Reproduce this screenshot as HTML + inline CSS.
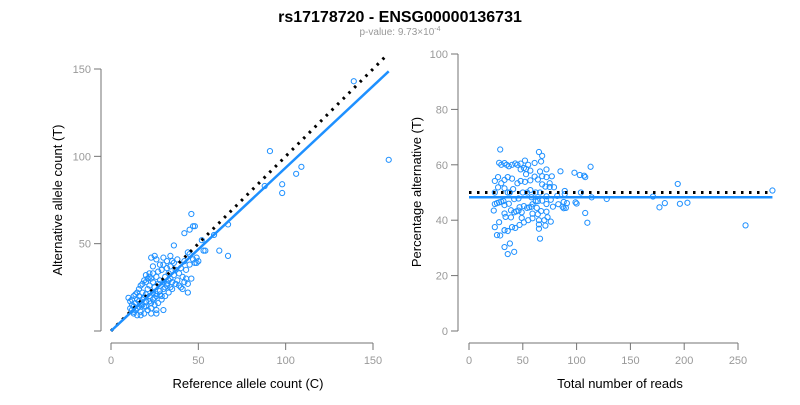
<!DOCTYPE html>
<html><head><meta charset="utf-8"><style>
body{margin:0;background:#fff;font-family:"Liberation Sans",Arial,sans-serif}
svg text{font-family:"Liberation Sans",Arial,sans-serif}
</style></head><body>
<svg id="c" width="800" height="400">
<text x="400" y="22" text-anchor="middle" font-size="16" font-weight="bold">rs17178720 - ENSG00000136731</text>
<text x="400" y="35" text-anchor="middle" font-size="10" fill="#999">p-value: 9.73×10<tspan dy="-4" font-size="7">-4</tspan></text>
<g id="left"></g>
<g id="right"></g>
</svg>
<script>
const refCounts=[11,12,12,13,13,14,14,15,15,16,16,17,17,18,18,19,19,20,20,21,21,22,22,23,23,24,24,25,25,26,26,27,27,28,28,29,29,30,30,31,31,32,32,33,33,34,34,35,35,36,36,37,38,38,39,40,40,41,42,42,43,44,44,45,45,46,47,48,10,11,12,13,14,15,16,17,18,19,20,21,22,23,24,25,26,28,30,32,34,36,13,15,17,19,21,23,25,27,29,31,33,35,37,39,41,43,16,18,20,22,24,26,28,30,32,34,23,26,26,30,20,22,24,42,45,47,48,46,52,53,54,62,67,59,49,50,44,49,67,88,91,98,98,106,109,139,159];
const altCounts=[13,12,15,11,14,16,12,18,13,17,20,11,15,18,22,14,19,17,21,24,12,20,26,16,30,22,28,19,25,31,21,27,34,23,29,20,35,28,38,25,31,36,27,33,29,30,37,28,40,32,39,35,29,41,33,36,25,31,28,40,35,27,22,38,44,30,41,39,19,17,18,20,21,22,24,26,27,29,32,30,33,42,37,43,41,38,42,40,43,49,10,9,9,10,12,13,15,16,18,20,22,24,27,26,24,30,14,15,14,17,18,20,21,24,26,25,10,10,12,12,28,31,33,56,58,60,60,67,52,46,46,46,43,55,42,40,45,39,61,83,103,84,79,90,94,143,98];
const leftXTicks=[0,50,100,150];
const leftYTicks=[0,50,100,150];
const rightXTicks=[0,50,100,150,200,250];
const rightYTicks=[0,20,40,60,80,100];
const fitSlope=[0.935];
const fitPct=[48.3];
const nullPct=[50];

const NS="http://www.w3.org/2000/svg";
function mk(tag,attrs,parent){const e=document.createElementNS(NS,tag);for(const k in attrs)e.setAttribute(k,attrs[k]);parent.appendChild(e);return e;}
const L=document.getElementById('left'),R=document.getElementById('right');
const lx=v=>111+v*(262/150), ly=v=>331-v*(262/150);
const rx=v=>469+v*(269/250), ry=v=>331-v*2.77;
const AX="#737373",TL="#999";

function axes(g,xs,ys,xf,yf,yAxisX,xAxisY,showY0,prefix){
  const xl=mk('line',{x1:xf(xs[0]),x2:xf(xs[xs.length-1]),y1:xAxisY,y2:xAxisY,stroke:AX},g);
  
  
  xs.forEach(v=>{
    mk('line',{x1:xf(v),x2:xf(v),y1:xAxisY,y2:xAxisY+7,stroke:AX},g);
    const t=mk('text',{x:xf(v),y:xAxisY+21,'text-anchor':'middle','font-size':11,fill:TL},g);t.textContent=v;
    
    
  });
  const yl=mk('line',{x1:yAxisX,x2:yAxisX,y1:yf(ys[0]),y2:yf(ys[ys.length-1]),stroke:AX},g);
  
  
  ys.forEach(v=>{
    mk('line',{x1:yAxisX-7,x2:yAxisX,y1:yf(v),y2:yf(v),stroke:AX},g);
    if(v===0&&!showY0)return;
    const t=mk('text',{x:yAxisX-10,y:yf(v)+4,'text-anchor':'end','font-size':11,fill:TL},g);t.textContent=v;
    
    
  });
}
axes(L,leftXTicks,leftYTicks,lx,ly,101,343,false,'left');
axes(R,rightXTicks,rightYTicks,rx,ry,458,343,true,'right');

function title(g,x,y,rot,txt,name){
  const t=mk('text',{x:x,y:y,'text-anchor':'middle','font-size':13,fill:'#000'},g);
  if(rot)t.setAttribute('transform','rotate(-90 '+x+' '+y+')');
  t.textContent=txt;
  
  
}
title(L,248,388,false,'Reference allele count (C)','left-x-axis-title');
title(L,62,200,true,'Alternative allele count (T)','left-y-axis-title');
title(R,620,388,false,'Total number of reads','right-x-axis-title');
title(R,421,192,true,'Percentage alternative (T)','right-y-axis-title');

// left points
refCounts.forEach((c,i)=>{
  const p=mk('circle',{cx:lx(c),cy:ly(altCounts[i]),r:2.6,fill:'none',stroke:'#1E90FF','stroke-width':1},L);
  
  
});
const maxRef=Math.max(...refCounts),maxAlt=Math.max(...altCounts);
const d1=mk('line',{x1:lx(0),y1:ly(0),x2:lx(maxAlt*1.1),y2:ly(maxAlt*1.1),stroke:'#000','stroke-width':3,'stroke-dasharray':'2.5 5.5'},L);


const f1=mk('line',{x1:lx(0),y1:ly(0),x2:lx(maxRef),y2:ly(maxRef*fitSlope[0]),stroke:'#1E90FF','stroke-width':2.5},L);



// right points
const totals=refCounts.map((c,i)=>c+altCounts[i]);
const maxT=Math.max(...totals);
totals.forEach((t,i)=>{
  const p=mk('circle',{cx:rx(t),cy:ry(altCounts[i]/t*100),r:2.6,fill:'none',stroke:'#1E90FF','stroke-width':1},R);
  
  
});
const d2=mk('line',{x1:rx(0),y1:ry(nullPct[0]),x2:rx(maxT),y2:ry(nullPct[0]),stroke:'#000','stroke-width':3,'stroke-dasharray':'2.5 5.5'},R);


const f2=mk('line',{x1:rx(0),y1:ry(fitPct[0]),x2:rx(maxT),y2:ry(fitPct[0]),stroke:'#1E90FF','stroke-width':2.5},R);


</script>
</body></html>
